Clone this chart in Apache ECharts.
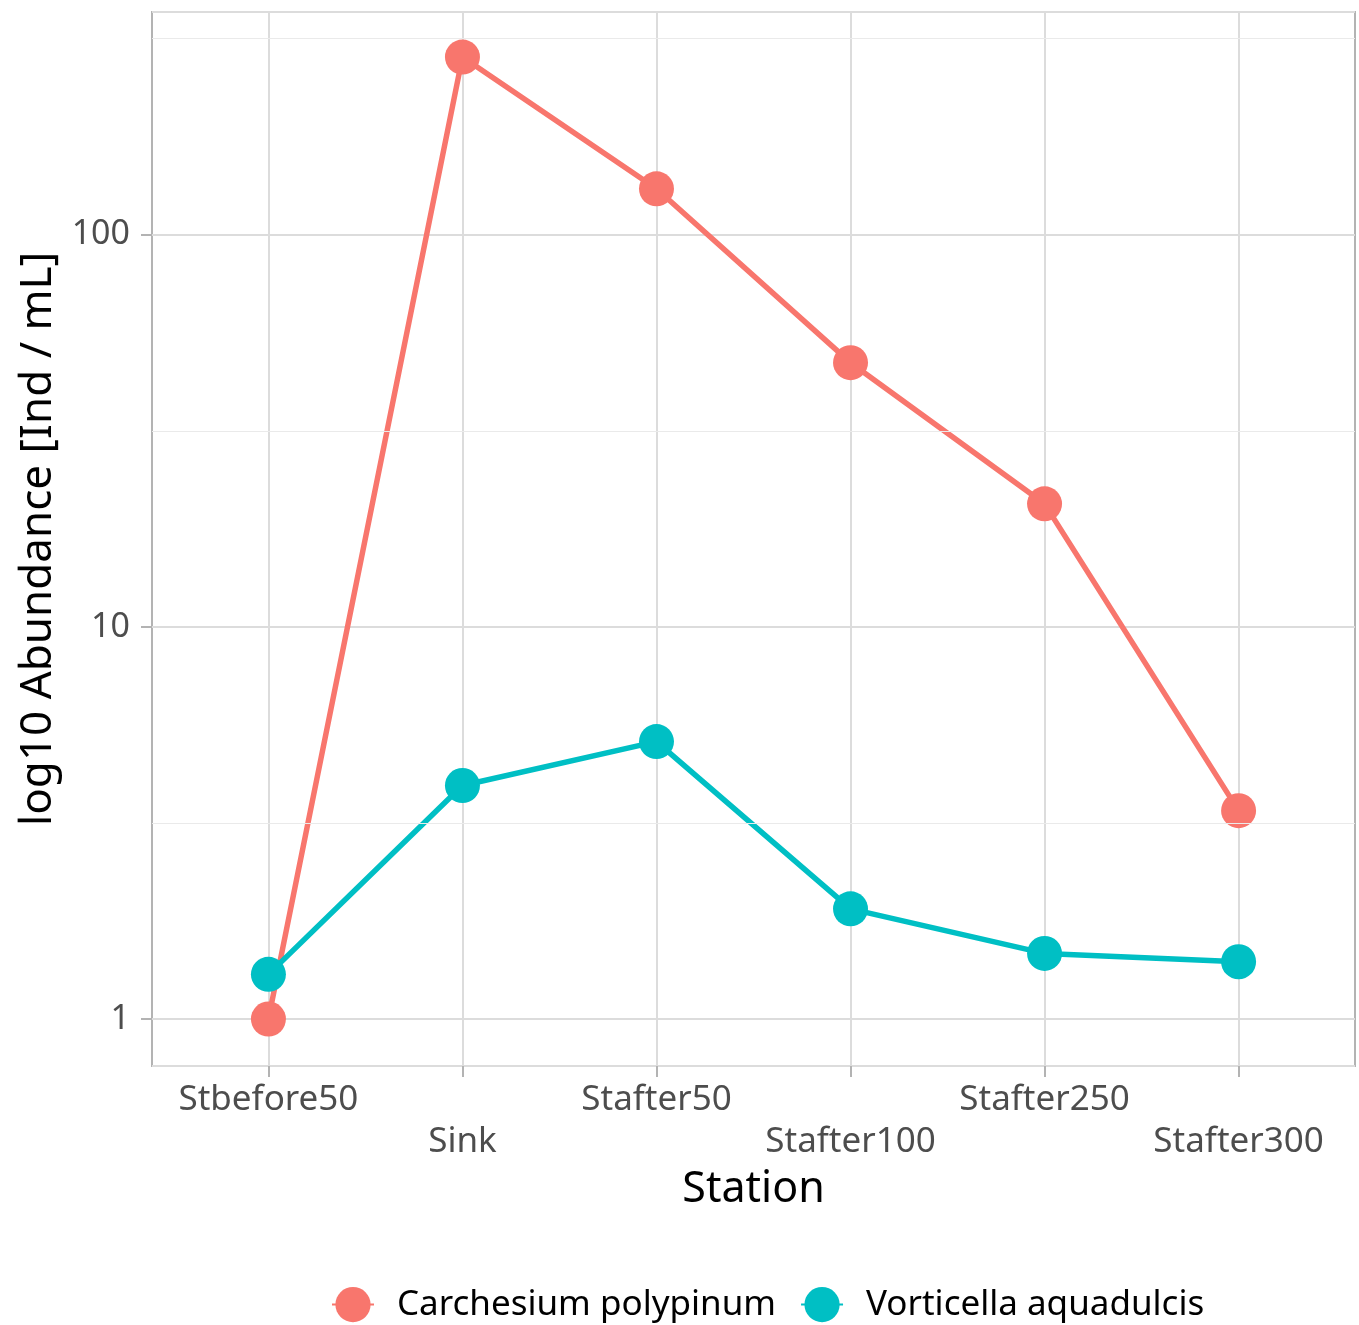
<!DOCTYPE html>
<html>
<head>
<meta charset="utf-8">
<title>Abundance by station</title>
<script src="https://cdn.jsdelivr.net/npm/echarts@6/dist/echarts.min.js"></script>
<style>
  html, body { margin: 0; padding: 0; background: #ffffff; }
  #chart { width: 1359px; height: 1325px; }
</style>
</head>
<body>
<div id="chart"></div>
<script>
// Sampling stations along the stream
const stations = ['Stbefore50', 'Sink', 'Stafter50', 'Stafter100', 'Stafter250', 'Stafter300'];

// Abundance [Ind / mL] per station
const carchesium = [1, 284, 131, 47.2, 20.6, 3.4];
const vorticella = [1.3, 3.94, 5.1, 1.91, 1.47, 1.4];

const speciesNames = ['Carchesium polypinum', 'Vorticella aquadulcis'];
const speciesColors = ['#F8766D', '#00BFC4'];

// Half-decade guide values for the log scale
const minorBreaks = [Math.sqrt(10), Math.sqrt(1000), Math.sqrt(100000)];

const FONT = '"Noto Sans", "Open Sans", sans-serif';
const GRID_MAJOR = '#dcdcdc';
const GRID_MINOR = '#eaeaea';
const FRAME = '#b3b3b3';

const chart = echarts.init(document.getElementById('chart'), null, { renderer: 'canvas' });

function pairs(values) {
  return values.map((v, i) => [i, v]);
}

function speciesSeries(idx, values) {
  return {
    name: speciesNames[idx],
    type: 'line',
    data: pairs(values),
    z: 3 + idx,
    symbol: 'circle',
    symbolSize: 35,
    showSymbol: true,
    lineStyle: { color: speciesColors[idx], width: 5.5 },
    itemStyle: { color: speciesColors[idx], borderWidth: 0 },
    emphasis: { disabled: true },
    animation: false
  };
}

const option = {
  backgroundColor: '#ffffff',
  animation: false,
  textStyle: { fontFamily: FONT },
  grid: {
    left: 152, right: 4, top: 12, bottom: 259,
    show: true, borderColor: FRAME, borderWidth: 2, backgroundColor: 'transparent'
  },
  legend: {
    top: 1282,
    left: 326,
    itemWidth: 42,
    itemHeight: 44,
    itemGap: 24,
    data: speciesNames,
    textStyle: { fontSize: 35, color: '#000000', fontFamily: FONT, padding: [0, 0, 0, 18] }
  },
  xAxis: {
    type: 'value',
    min: -0.6,
    max: stations.length - 0.4,
    name: 'Station',
    nameLocation: 'middle',
    nameGap: 100,
    nameTextStyle: { fontSize: 43, color: '#000000', fontFamily: FONT },
    axisLine: { show: false, onZero: false },
    axisTick: {
      show: true, length: 11, customValues: stations.map((_, i) => i),
      lineStyle: { color: FRAME, width: 2 }
    },
    axisLabel: {
      customValues: stations.map((_, i) => i),
      fontSize: 35,
      color: '#4d4d4d',
      fontFamily: FONT,
      margin: 13,
      lineHeight: 42,
      formatter: function (v) {
        const i = Math.round(v);
        return (i % 2 === 1 ? '\n' : '') + stations[i];
      }
    },
    splitLine: { show: true, lineStyle: { color: GRID_MAJOR, width: 2 } }
  },
  yAxis: {
    type: 'log',
    logBase: 10,
    min: 0.759,
    max: 370,
    name: 'log10 Abundance [Ind / mL]',
    nameLocation: 'middle',
    nameRotate: 90,
    nameGap: 92,
    nameTextStyle: { fontSize: 44, color: '#000000', fontFamily: FONT },
    axisLine: { show: false, onZero: false },
    axisTick: { show: true, length: 11, lineStyle: { color: FRAME, width: 2 } },
    axisLabel: {
      fontSize: 34,
      color: '#4d4d4d',
      fontFamily: FONT,
      margin: 22,
      showMinLabel: false,
      showMaxLabel: false,
      formatter: function (v) { return String(Math.round(v)); }
    },
    splitLine: { show: true, lineStyle: { color: GRID_MAJOR, width: 2 } }
  },
  series: [
    {
      // minor horizontal guides between decades
      type: 'line',
      data: [],
      z: 1,
      silent: true,
      markLine: {
        silent: true,
        symbol: ['none', 'none'],
        label: { show: false },
        lineStyle: { color: GRID_MINOR, width: 1.2, type: 'solid' },
        emphasis: { disabled: true },
        animation: false,
        data: minorBreaks.map(v => ({ yAxis: v }))
      }
    },
    speciesSeries(0, carchesium),
    speciesSeries(1, vorticella)
  ]
};

chart.setOption(option);
</script>
</body>
</html>
